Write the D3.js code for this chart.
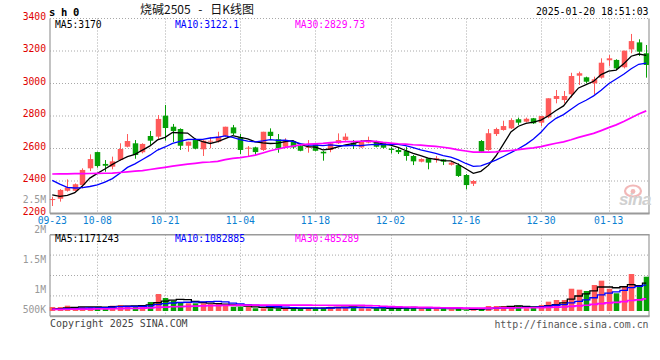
<!DOCTYPE html>
<html><head><meta charset="utf-8">
<script src="https://cdn.jsdelivr.net/npm/d3@7"></script>
<style>html,body{margin:0;padding:0;background:#fff;} svg{display:block;}</style>
</head><body><svg id="c" width="660" height="360"></svg>
<script>
// ---------------- data ----------------
const dates = ["09-23","09-24","09-25","09-26","09-27","09-30","10-08","10-09","10-10","10-11",
"10-14","10-15","10-16","10-17","10-18","10-21","10-22","10-23","10-24","10-25",
"10-28","10-29","10-30","10-31","11-01","11-04","11-05","11-06","11-07","11-08",
"11-11","11-12","11-13","11-14","11-15","11-18","11-19","11-20","11-21","11-22",
"11-25","11-26","11-27","11-28","11-29","12-02","12-03","12-04","12-05","12-06",
"12-09","12-10","12-11","12-12","12-13","12-16","12-17","12-18","12-19","12-20",
"12-23","12-24","12-25","12-26","12-27","12-30","12-31","01-02","01-03","01-06",
"01-07","01-08","01-09","01-10","01-13","01-14","01-15","01-16","01-17","01-20"];
const openP = [2285,2291,2340,2340,2375,2478,2578,2505,2488,2529,
2611,2632,2577,2677,2673,2802,2734,2720,2617,2652,
2595,2644,2642,2677,2730,2669,2602,2607,2591,2703,
2657,2611,2642,2615,2609,2626,2580,2591,2632,2652,
2636,2607,2636,2644,2636,2599,2591,2586,2554,2519,
2540,2529,2533,2500,2498,2437,2383,2646,2591,2689,
2714,2724,2780,2765,2786,2759,2792,2905,2898,2934,
3048,3038,3001,3036,3143,3145,3100,3210,3253,3186];
const highP = [2303,2350,2410,2385,2478,2564,2580,2529,2550,2632,
2689,2652,2632,2708,2806,2868,2751,2724,2642,2663,
2652,2669,2703,2734,2745,2689,2615,2611,2703,2724,
2689,2663,2648,2622,2652,2632,2586,2636,2693,2693,
2652,2652,2673,2648,2640,2611,2605,2611,2560,2540,
2542,2554,2535,2519,2509,2443,2406,2652,2720,2728,
2771,2786,2790,2790,2788,2800,2909,2960,2954,3066,
3073,3042,3042,3155,3175,3149,3202,3305,3272,3237];
const lowP = [2246,2273,2335,2335,2355,2461,2482,2457,2472,2525,
2607,2537,2570,2622,2658,2648,2640,2591,2580,2595,
2554,2601,2636,2673,2683,2566,2550,2560,2585,2657,
2574,2607,2599,2583,2574,2583,2525,2577,2628,2648,
2597,2605,2632,2607,2600,2570,2566,2525,2498,2515,
2472,2513,2498,2495,2425,2349,2369,2578,2586,2677,
2710,2720,2745,2760,2751,2738,2786,2878,2878,2913,
2991,3001,2934,3030,3108,3083,3093,3186,3169,3036];
const closeP = [2289,2345,2361,2380,2468,2535,2492,2494,2521,2597,
2646,2560,2628,2648,2782,2726,2708,2617,2642,2599,
2648,2648,2673,2734,2693,2591,2605,2578,2703,2677,
2601,2652,2607,2586,2611,2586,2570,2632,2652,2673,
2622,2642,2652,2611,2605,2591,2578,2554,2521,2535,
2513,2540,2519,2513,2431,2375,2400,2580,2694,2720,
2738,2775,2759,2783,2755,2800,2909,2923,2923,3046,
3063,3011,3026,3128,3155,3093,3202,3261,3196,3114];
const volume = [733000,733000,755000,717000,733000,733000,733000,733000,755000,767000,
755000,750000,750000,817000,950000,883000,838000,817000,795000,795000,
795000,783000,783000,750000,738000,738000,738000,712000,712000,712000,
712000,712000,712000,712000,712000,722000,722000,738000,738000,730000,
738000,712000,712000,712000,712000,712000,712000,720000,738000,712000,
712000,712000,712000,695000,712000,680000,680000,717000,750000,750000,
750000,750000,755000,712000,717000,767000,822000,850000,850000,1038000,
1022000,1000000,1100000,1172000,1038000,962000,1083000,1283000,1083000,1238000];
// estimated closes / volumes of the 29 sessions before 09-23 (only feed the moving averages)
const prevCloses = [2325,2341,2360,2448,2515,2472,2474,2501,2477,2526,2440,2508,2448,2580,2526,2508,2417,2472,2429,2478,
2580,2560,2420,2450,2460,2390,2330,2300,2264];
const prevVolumes = [700000,690000,680000,695000,705000,690000,685000,700000,695000,690000,680000,690000,700000,695000,685000,
690000,700000,690000,685000,695000,690000,700000,690000,680000,690000,695000,690000,685000,690000];
const priceTicks = [2200,2400,2600,2800,3000,3200,3400];
const volTicks = [2500000,2000000,1500000,1000000,500000];
const volTickLabels = ["2.5M","2M","1.5M","1M","500K"];
const dateTicks = ["09-23","10-08","10-21","11-04","11-18","12-02","12-16","12-30","01-13"];
const maPeriods = [5,10,30];
const priceLegend = ["MA5:3170","MA10:3122.1","MA30:2829.73"];
const volLegend = ["MA5:1171243","MA10:1082885","MA30:485289"];

// ---------------- layout ----------------
const svg = d3.select("#c");
const L = 50, R = 649, pTop = 18.5, pBot = 213.5, vTop = 234.7, vBot = 316.3, vClip = 311;
const mono = "'DejaVu Sans Mono', monospace";
const RED = "#ff5a5a", GREEN = "#06a006", GRID = "#a8a8a8", BORDER = "#9a9a9a";
const maColors = ["#000000", "#0000ff", "#ff00ff"];
const idx = d3.range(dates.length);

const x = d3.scaleBand().domain(idx).range([48.5, 650]).paddingInner(0.27).paddingOuter(0.135);
const cx = i => x(i) + x.bandwidth() / 2;
const y = d3.scaleLinear().domain([2200, 3400]).range([pBot, pTop]);
const vy = d3.scaleLinear().domain([0, 2500000]).range([351, 201]);

function movingAvg(prev, vals, n) {
  const all = prev.concat(vals), off = prev.length;
  return vals.map((_, i) => d3.mean(all.slice(off + i - n + 1, off + i + 1)));
}

const defs = svg.append("defs");
defs.append("clipPath").attr("id", "pclip").append("rect")
  .attr("x", 49).attr("y", pTop).attr("width", R - 49).attr("height", pBot - pTop);
defs.append("clipPath").attr("id", "vclip").append("rect")
  .attr("x", 49).attr("y", vTop).attr("width", R - 49).attr("height", vClip - vTop);

// ---------------- grids ----------------
const grid = svg.append("g").attr("stroke", GRID).attr("stroke-dasharray", "1,2").attr("fill", "none");
priceTicks.filter(v => v > 2200).forEach(v => {
  grid.append("line").attr("x1", L).attr("x2", R).attr("y1", y(v)).attr("y2", y(v));
});
const vGridYs = d3.range(1, 4).map(k => vTop + k * (vBot - vTop) / 4);
vGridYs.forEach(gy => grid.append("line").attr("x1", L).attr("x2", R).attr("y1", gy).attr("y2", gy));
dateTicks.slice(1).forEach(d => {
  const gx = Math.round(cx(dates.indexOf(d))) + 0.5;
  grid.append("line").attr("x1", gx).attr("x2", gx).attr("y1", pTop).attr("y2", pBot);
  grid.append("line").attr("x1", gx).attr("x2", gx).attr("y1", vTop).attr("y2", vBot);
});

// borders
const b = svg.append("g").attr("stroke", BORDER).attr("fill", "none");
b.append("line").attr("x1", L).attr("x2", L).attr("y1", pTop).attr("y2", pBot).attr("stroke-width", 1.2);
b.append("line").attr("x1", R).attr("x2", R).attr("y1", pTop).attr("y2", pBot).attr("stroke-width", 1.2);
b.append("line").attr("x1", L).attr("x2", R + 0.6).attr("y1", pBot).attr("y2", pBot).attr("stroke-width", 2);
b.append("line").attr("x1", L).attr("x2", L).attr("y1", vTop).attr("y2", vBot).attr("stroke-width", 1.2);
b.append("line").attr("x1", R).attr("x2", R).attr("y1", vTop).attr("y2", vBot).attr("stroke-width", 1.2);
b.append("line").attr("x1", L).attr("x2", R + 0.6).attr("y1", vTop).attr("y2", vTop).attr("stroke-width", 1.6);
b.append("line").attr("x1", L).attr("x2", R + 0.6).attr("y1", vBot).attr("y2", vBot).attr("stroke-width", 2);

// ---------------- watermark ----------------
const wm = svg.append("g");
wm.append("ellipse").attr("cx", 633).attr("cy", 191).attr("rx", 8).attr("ry", 5.5)
  .attr("fill", "none").attr("stroke", "#f2b8b8").attr("stroke-width", 2.2);
wm.append("circle").attr("cx", 633).attr("cy", 191.5).attr("r", 2.4).attr("fill", "#f2b8b8");
wm.append("text").attr("x", 619).attr("y", 205).text("sina")
  .attr("font-family", "'Liberation Sans', Arial, sans-serif").attr("font-style", "italic")
  .attr("font-weight", "bold").attr("font-size", 17).attr("fill", "#d0d0d0").attr("letter-spacing", -0.5);

// ---------------- candles ----------------
const pc = svg.append("g").attr("clip-path", "url(#pclip)");
const bw = x.bandwidth();
idx.forEach(i => {
  const up = closeP[i] >= openP[i];
  const col = up ? RED : GREEN;
  const xm = Math.round(cx(i)) + 0.5;
  pc.append("line").attr("x1", xm).attr("x2", xm).attr("y1", y(highP[i])).attr("y2", y(lowP[i]))
    .attr("stroke", col).attr("stroke-width", 1);
  const yt = y(Math.max(openP[i], closeP[i])), yb = y(Math.min(openP[i], closeP[i]));
  pc.append("rect").attr("x", xm - bw / 2).attr("width", bw)
    .attr("y", yt).attr("height", Math.max(1, yb - yt)).attr("fill", col);
});

// price MAs
maPeriods.forEach((n, k) => {
  const m = movingAvg(prevCloses, closeP, n);
  pc.append("path").datum(m)
    .attr("d", d3.line().x((d, i) => cx(i)).y(d => y(d)))
    .attr("fill", "none").attr("stroke", maColors[k]).attr("stroke-width", k === 2 ? 1.7 : 1.3);
});

// ---------------- volume ----------------
const vc = svg.append("g").attr("clip-path", "url(#vclip)");
idx.forEach(i => {
  const up = closeP[i] >= openP[i];
  vc.append("rect").attr("x", Math.round(cx(i)) + 0.5 - bw / 2).attr("width", bw)
    .attr("y", vy(volume[i])).attr("height", vy(0) - vy(volume[i]))
    .attr("fill", up ? RED : GREEN);
});
maPeriods.forEach((n, k) => {
  const m = movingAvg(prevVolumes, volume, n);
  vc.append("path").datum(m)
    .attr("d", d3.line().curve(d3.curveStep).x((d, i) => cx(i)).y(d => vy(d)))
    .attr("fill", "none").attr("stroke", maColors[k]).attr("stroke-width", k === 2 ? 1.7 : 1.3);
});

// ---------------- axes ----------------
const pa = svg.append("g").attr("transform", `translate(${L},0)`)
  .call(d3.axisLeft(y).tickValues(priceTicks).tickSize(0).tickPadding(4).tickFormat(d3.format("d")));
pa.select(".domain").remove();
pa.selectAll("text").attr("fill", "#e00000").attr("font-family", mono).attr("font-size", 9.7).attr("dy", "0.1em");

const va = svg.append("g").attr("transform", `translate(${L},0)`)
  .call(d3.axisLeft(vy).tickValues(volTicks).tickSize(0).tickPadding(4).tickFormat((d, i) => volTickLabels[i]));
va.select(".domain").remove();
va.selectAll(".tick").attr("transform", d => `translate(0,${Math.min(vy(d), vClip)})`);
va.selectAll("text").attr("fill", "#999").attr("font-family", mono).attr("font-size", 9.7).attr("dy", "0.2em");

const da = svg.append("g").attr("transform", `translate(0,${pBot})`)
  .call(d3.axisBottom(x).tickValues(dateTicks.map(d => dates.indexOf(d))).tickSize(0).tickPadding(4)
    .tickFormat(i => dates[i]));
da.select(".domain").remove();
da.selectAll("text").attr("fill", "#0a80d2").attr("font-family", mono).attr("font-size", 9.7);

// ---------------- legends & titles ----------------
const legX = [55, 175, 295];
priceLegend.forEach((t, k) => svg.append("text").attr("x", legX[k]).attr("y", 27.5).text(t)
  .attr("font-family", mono).attr("font-size", 9.7).attr("fill", maColors[k]));
volLegend.forEach((t, k) => svg.append("text").attr("x", legX[k]).attr("y", 242).text(t)
  .attr("font-family", mono).attr("font-size", 9.7).attr("fill", maColors[k]));

svg.append("text").attr("x", 49).attr("y", 15.8).text("sh0")
  .attr("font-family", mono).attr("font-weight", "bold").attr("font-size", 10.5)
  .attr("letter-spacing", 5.7).attr("fill", "#000");
svg.append("text").attr("x", 140).attr("y", 14).text("烧碱2505 - 日K线图")
  .attr("font-family", "'Noto Sans CJK SC', sans-serif").attr("font-size", 12).attr("word-spacing", 5)
  .attr("fill", "#111");
svg.append("text").attr("x", 648.5).attr("y", 15).attr("text-anchor", "end").text("2025-01-20 18:51:03")
  .attr("font-family", mono).attr("font-size", 9.85).attr("fill", "#000");
svg.append("text").attr("x", 50).attr("y", 327).text("Copyright 2025 SINA.COM")
  .attr("font-family", mono).attr("font-size", 9.95).attr("fill", "#444");
svg.append("text").attr("x", 648.5).attr("y", 327.5).attr("text-anchor", "end").text("http://finance.sina.com.cn")
  .attr("font-family", mono).attr("font-size", 9.85).attr("fill", "#555");
</script></body></html>
